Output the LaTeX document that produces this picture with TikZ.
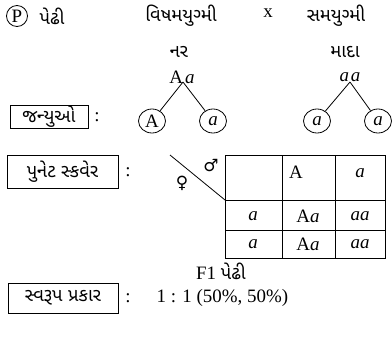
\documentclass[tikz,border=0pt]{standalone}
\usepackage{fontspec}
\setmainfont{Liberation Serif}
\newfontfamily\gujfont[Script=Gujarati]{Noto Sans Gujarati UI}
\newfontfamily\symfont{DejaVu Sans}
\usetikzlibrary{shapes.geometric}

\begin{document}
\begin{tikzpicture}[x=1bp, y=-1bp, line width=0.8bp,
    font=\fontsize{19}{22}\selectfont,
    guj/.style={font=\gujfont\fontsize{18.5}{22}\selectfont},
    tag/.style={draw, guj, inner sep=0pt},
    gamete/.style={draw, ellipse, minimum width=27bp, minimum height=24bp, inner sep=0pt}]
  \useasboundingbox (0,0) rectangle (392,337);
  % top row
  \node[draw, circle, minimum size=21bp, inner sep=0pt] (P) at (17,16) {P};
  \node[guj] (pedhi) at (52,16) {પેઢી};
  \node[guj] (het) at (181,16) {વિષમયુગ્મી};
  \node (cross) at (268,13) {x};
  \node[guj] (hom) at (336,16) {સમયુગ્મી};
  \node[guj] (male) at (179,52) {નર};
  \node[guj] (female) at (345,52) {માદા};
  \node (Aa) at (182,77) {A\kern2bp\textit{a}};
  \node (aa) at (350,77) {\textit{a}\kern2bp\textit{a}};
  \coordinate (mtop) at (183,82);
  \coordinate (ftop) at (350,82);
  % gametes
  \node[tag, minimum width=78bp, minimum height=23bp] (gam) at (49,116.5) {જન્યુઓ};
  \node (c1) at (97,117) {:};
  \node[gamete] (gA) at (152,121) {A};
  \node[gamete] (ga) at (213,121) {\textit{a}};
  \node[gamete] (gf1) at (317,121) {\textit{a}};
  \node[gamete] (gf2) at (378,121) {\textit{a}};
  \draw (mtop) -- (gA);
  \draw (mtop) -- (ga);
  \draw (ftop) -- (gf1);
  \draw (ftop) -- (gf2);
  % punnett square
  \node[tag, minimum width=111bp, minimum height=33bp] (pun) at (62.5,171.5) {પુનેટ સ્કવેર};
  \node (c2) at (128,172) {:};
  \coordinate (corner) at (170,155);
  \draw (225,155) rectangle (385,258);
  \draw (282,155) -- (282,258);
  \draw (335,155) -- (335,258);
  \draw (225,200) -- (385,200);
  \draw (225,230) -- (385,230);
  \coordinate (tl) at (225,200);
  \draw (corner) -- (tl);
  \node[font=\symfont\fontsize{17}{19}\selectfont] (mars) at (211,166) {♂};
  \node[font=\symfont\fontsize{17}{19}\selectfont] (venus) at (182,183) {♀};
  \node (hA) at (296,172) {A};
  \node (ha) at (360,173) {\textit{a}};
  \node (r1) at (253,216) {\textit{a}};
  \node (r1A) at (308,216) {A\textit{a}};
  \node (r1a) at (360,216) {\textit{aa}};
  \node (r2) at (253,244) {\textit{a}};
  \node (r2A) at (308,244) {A\textit{a}};
  \node (r2a) at (360,244) {\textit{aa}};
  % result
  \node (f1) at (221,271) {F1 \gujfont\fontsize{18.5}{22}\selectfont પેઢી};
  \node[tag, minimum width=110bp, minimum height=30bp] (sw) at (63,298) {સ્વરૂપ પ્રકાર};
  \node (c3) at (128,298) {:};
  \node[anchor=west] (ratio) at (153,298) {1 : 1 (50\%, 50\%)};
\end{tikzpicture}
\end{document}
